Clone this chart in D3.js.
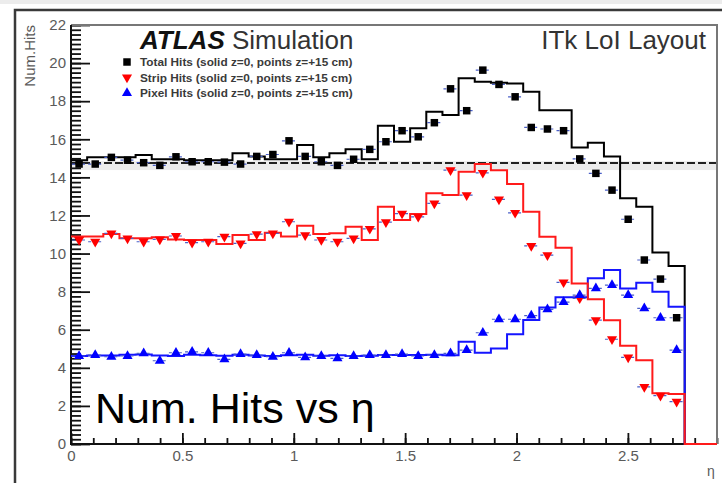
<!DOCTYPE html>
<html>
<head>
<meta charset="utf-8">
<script src="https://cdn.jsdelivr.net/npm/d3@7"></script>
<style>
  body { margin: 0; background: #fff; }
  text { font-family: "Liberation Sans", Arial, sans-serif; }
</style>
</head>
<body>
<div id="chart-area"></div>
<script>
// eta binning: 40 bins from 0 to 2.9
let etaMin = 0, etaMax = 2.9, nBins = 40;

// solid histograms (z=0)
let totalStep = [14.9, 15.05, 15.05, 15.05, 15.17, 14.95, 14.95, 14.9, 14.9, 14.9,
    15.26, 15.1, 14.95, 14.95, 15.7, 15.05, 15.26, 15.47, 14.95, 16.71,
    15.87, 16.58, 17.45, 17.27, 19.2, 19.02, 18.97, 18.93, 18.5, 17.53,
    17.53, 15.57, 15.82, 15.09, 12.9, 12.46, 10.05, 9.34, 0, 0];
let stripStep = [10.89, 10.89, 11.02, 10.8, 10.8, 10.85, 10.74, 10.71, 10.71, 10.5,
    10.97, 10.71, 11.09, 10.89, 11.46, 11.02, 11.06, 11.41, 10.71, 12.46,
    11.76, 12.07, 13.16, 13.07, 14.3, 14.7, 14.38, 13.65, 12.2, 10.88,
    10.3, 8.43, 7.6, 6.5, 5.16, 4.4, 2.66, 2.62, 0, 0];
let pixelStep = [4.62, 4.65, 4.65, 4.68, 4.7, 4.65, 4.62, 4.68, 4.66, 4.64,
    4.68, 4.65, 4.62, 4.66, 4.68, 4.64, 4.66, 4.62, 4.64, 4.67,
    4.67, 4.67, 4.68, 4.66, 5.37, 4.79, 5.02, 5.76, 6.51, 7.17,
    7.7, 7.7, 8.7, 9.13, 8.17, 8.47, 8.0, 7.2, 0, 0];

// points (z=+15 cm)
let totalPts = [14.7, 14.7, 15.05, 14.9, 14.77, 14.63, 15.08, 14.82, 14.82, 14.8,
    14.7, 15.1, 15.2, 15.92, 15.1, 14.82, 14.63, 14.95, 15.47, 15.87,
    16.45, 16.13, 16.87, 18.65, 17.5, 19.63, 18.88, 18.23, 16.62, 16.54,
    16.45, 14.97, 14.21, 13.33, 11.8, 9.66, 8.66, 6.63];
let stripPts = [10.71, 10.62, 11.06, 10.8, 10.62, 10.74, 10.92, 10.57, 10.62, 10.89,
    10.53, 11.02, 11.06, 11.67, 10.97, 10.71, 10.62, 10.8, 11.3, 11.65,
    12.1, 11.93, 12.63, 14.38, 13.07, 14.24, 12.84, 12.14, 10.4, 9.92,
    8.49, 7.65, 6.5, 5.5, 4.55, 3.0, 2.54, 2.22];
let pixelPts = [4.62, 4.67, 4.58, 4.62, 4.76, 4.37, 4.79, 4.84, 4.79, 4.44,
    4.72, 4.67, 4.58, 4.79, 4.55, 4.62, 4.5, 4.62, 4.67, 4.67,
    4.72, 4.62, 4.67, 4.76, 4.93, 5.84, 6.55, 6.55, 6.74, 7.07,
    7.45, 7.82, 8.17, 8.34, 7.82, 7.12, 6.63, 4.93];

let refLine = 14.75;

let legendLabels = ["Total Hits (solid z=0, points z=+15 cm)",
    "Strip Hits (solid z=0, points z=+15 cm)",
    "Pixel Hits (solid z=0, points z=+15 cm)"];
let yTicks = [0, 2, 4, 6, 8, 10, 12, 14, 16, 18, 20, 22];
let xTicks = [0, 0.5, 1, 1.5, 2, 2.5];

let plotLeft = 71, plotTop = 25, plotRight = 717, plotBottom = 444;
let binW = (etaMax - etaMin) / nBins;

const svg = d3.select("#chart-area").append("svg")
    .attr("width", 722)
    .attr("height", 483)

svg.append("rect").attr("width", 722).attr("height", 483).attr("fill", "#fff")
svg.append("rect").attr("width", 722).attr("height", 4).attr("fill", "#ececec")

// outer canvas frame
svg.append("rect")
    .attr("x", 15).attr("y", 10)
    .attr("width", 800).attr("height", 600)
    .attr("fill", "none")
    .attr("stroke", "#3a3a3a")
    .attr("stroke-width", 2.5)

const x = d3.scaleLinear()
    .domain([etaMin, etaMax])
    .range([plotLeft, plotRight])
const y = d3.scaleLinear()
    .domain([0, 22])
    .range([plotBottom, plotTop])

// dashed reference line with its faint shadow
svg.append("rect")
    .attr("x", plotLeft).attr("y", y(refLine) - 2)
    .attr("width", plotRight - plotLeft).attr("height", 9)
    .attr("fill", "#ececec")
svg.append("line")
    .attr("x1", plotLeft).attr("x2", plotRight)
    .attr("y1", y(refLine)).attr("y2", y(refLine))
    .attr("stroke", "#222")
    .attr("stroke-width", 2)
    .attr("stroke-dasharray", "8,3")

// axes (ROOT style ticks pointing inward)
let yMinor = d3.range(0, 22.01, 0.25);
svg.append("g")
    .attr("transform", `translate(${plotLeft}, 0)`)
    .call(d3.axisLeft(y).tickValues(yMinor).tickSizeInner(-10).tickSizeOuter(0).tickFormat(""))
svg.append("g")
    .attr("class", "yaxis")
    .attr("transform", `translate(${plotLeft}, 0)`)
    .call(d3.axisLeft(y).tickValues(yTicks).tickSizeInner(-19).tickSizeOuter(0).tickPadding(5))

let xMinor = d3.range(0, 2.91, 0.1);
svg.append("g")
    .attr("transform", `translate(0, ${plotBottom})`)
    .call(d3.axisBottom(x).tickValues(xMinor).tickSizeInner(-6).tickSizeOuter(0).tickFormat(""))
svg.append("g")
    .attr("class", "xaxis")
    .attr("transform", `translate(0, ${plotBottom})`)
    .call(d3.axisBottom(x).tickValues(xTicks).tickSizeInner(-11).tickSizeOuter(0).tickPadding(6).tickFormat(d3.format("")))

svg.selectAll(".tick line").attr("stroke", "#111").attr("stroke-width", 1.8)
svg.selectAll(".domain").remove()
svg.selectAll(".yaxis text, .xaxis text")
    .attr("font-size", "15px")
    .attr("fill", "#5a5a5a")
    .style("font-family", "'Liberation Sans', Arial, sans-serif")

// frame
svg.append("path")
    .attr("d", `M${plotLeft},${plotTop} H${plotRight} V${plotBottom}`)
    .attr("fill", "none")
    .attr("stroke", "#777")
    .attr("stroke-width", 2)
svg.append("path")
    .attr("d", `M${plotLeft},${plotTop} V${plotBottom} H${plotRight}`)
    .attr("fill", "none")
    .attr("stroke", "#111")
    .attr("stroke-width", 2)

// step histograms
function stepPoints(vals) {
    let pts = [];
    vals.forEach(function(v, i) {
        pts.push([etaMin + i * binW, v]);
        pts.push([etaMin + (i + 1) * binW, v]);
    });
    return pts;
}
let stepLine = d3.line()
    .x(d => x(d[0]))
    .y(d => y(d[1]))

let hists = [
    {vals: totalStep, color: "#000"},
    {vals: pixelStep, color: "#1515ff"},
    {vals: stripStep, color: "#ff1a1a"}
];
hists.forEach(function(h) {
    svg.append("path")
        .datum(stepPoints(h.vals))
        .attr("fill", "none")
        .attr("stroke", h.color)
        .attr("stroke-width", 2)
        .attr("d", stepLine)
});

// points with horizontal error bars
let series = [
    {vals: totalPts, color: "#000", sym: d3.symbolSquare, size: 56, rot: 0},
    {vals: stripPts, color: "#ff0000", sym: d3.symbolTriangle, size: 44, rot: 180},
    {vals: pixelPts, color: "#0000ff", sym: d3.symbolTriangle, size: 44, rot: 0}
];
series.forEach(function(s) {
    let g = svg.append("g");
    g.selectAll("line")
        .data(s.vals)
        .enter().append("line")
        .attr("x1", (d, i) => x(etaMin + i * binW) + 1)
        .attr("x2", (d, i) => x(etaMin + (i + 1) * binW) - 1)
        .attr("y1", d => y(d))
        .attr("y2", d => y(d))
        .attr("stroke", "#4a5fc8")
        .attr("stroke-width", 1.2)
        .attr("stroke-dasharray", "3,2")
    g.selectAll("path")
        .data(s.vals)
        .enter().append("path")
        .attr("d", d3.symbol().type(s.sym).size(s.size))
        .attr("transform", (d, i) => `translate(${x(etaMin + (i + 0.5) * binW)}, ${y(d)}) rotate(${s.rot})`)
        .attr("fill", s.color)
});

//Y title
svg.append("text")
    .attr("transform", `translate(35, ${plotTop}) rotate(-90)`)
    .attr("text-anchor", "end")
    .attr("font-size", "15px")
    .attr("fill", "#5a5a5a")
    .text("Num.Hits")
//X title
svg.append("text")
    .attr("x", 711).attr("y", 476)
    .attr("text-anchor", "middle")
    .attr("font-size", "14px")
    .attr("fill", "#5a5a5a")
    .text("η")

// labels
let atlas = svg.append("text")
    .attr("x", 140).attr("y", 49)
    .attr("font-size", "26px")
    .attr("fill", "#111")
atlas.append("tspan").attr("font-weight", "bold").attr("font-style", "italic").text("ATLAS")
atlas.append("tspan").attr("fill", "#333").text(" Simulation")

svg.append("text")
    .attr("x", 706).attr("y", 49)
    .attr("text-anchor", "end")
    .attr("font-size", "26px")
    .attr("fill", "#333")
    .text("ITk LoI Layout")

// legend
let legendY = [62, 77.5, 93];
series.forEach(function(s, i) {
    svg.append("path")
        .attr("d", d3.symbol().type(s.sym).size(s.size))
        .attr("transform", `translate(127, ${legendY[i]}) rotate(${s.rot})`)
        .attr("fill", s.color)
    svg.append("text")
        .attr("x", 140).attr("y", legendY[i] + 4)
        .attr("font-size", "11.8px")
        .attr("font-weight", "bold")
        .attr("fill", "#3a3a3a")
        .text(legendLabels[i])
});

svg.append("text")
    .attr("x", 95).attr("y", 423)
    .attr("font-size", "43px")
    .attr("fill", "#000")
    .text("Num. Hits vs η")
</script>
</body>
</html>
